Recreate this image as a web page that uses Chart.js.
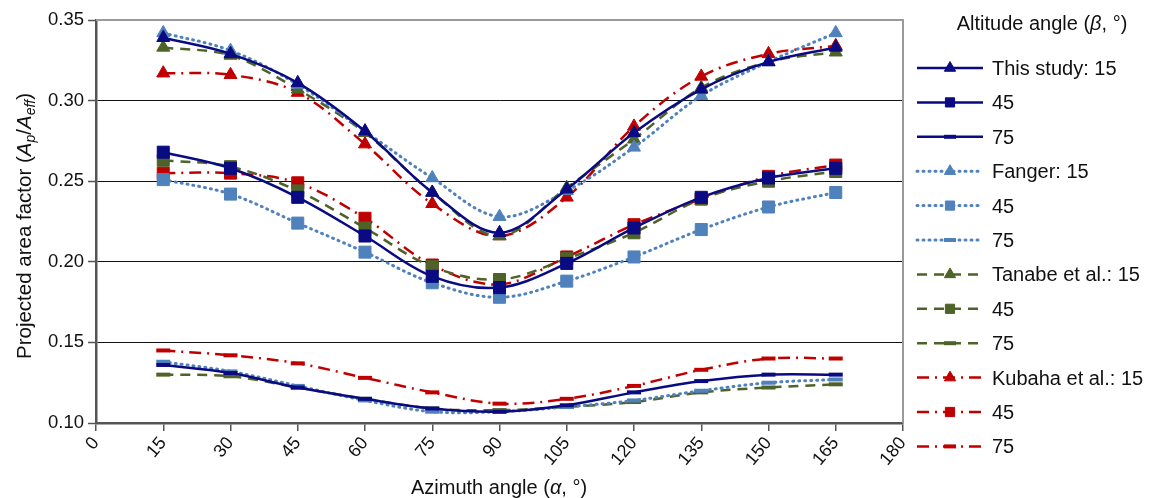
<!DOCTYPE html>
<html>
<head>
<meta charset="utf-8">
<script src="https://cdn.jsdelivr.net/npm/chart.js@4/dist/chart.umd.min.js"></script>
<style>
  html, body { margin: 0; padding: 0; background: #fff; }
  #wrap { width: 1149px; height: 498px; }
</style>
</head>
<body>
<div id="wrap"><canvas id="chart" width="1149" height="498"></canvas></div>
<script>
// azimuth angles (x)
const azimuth = [15, 30, 45, 60, 75, 90, 105, 120, 135, 150, 165];

// This study
const thisStudy15 = [0.339, 0.329, 0.311, 0.281, 0.243, 0.218, 0.245, 0.280, 0.307, 0.324, 0.333];
const thisStudy45 = [0.268, 0.258, 0.240, 0.216, 0.191, 0.184, 0.199, 0.221, 0.240, 0.252, 0.258];
const thisStudy75 = [0.136, 0.131, 0.122, 0.115, 0.109, 0.107, 0.111, 0.119, 0.126, 0.130, 0.130];
// Fanger
const fanger15 = [0.342, 0.331, 0.310, 0.281, 0.252, 0.228, 0.244, 0.271, 0.303, 0.324, 0.342];
const fanger45 = [0.251, 0.242, 0.224, 0.206, 0.187, 0.178, 0.188, 0.203, 0.220, 0.234, 0.243];
const fanger75 = [0.138, 0.132, 0.123, 0.114, 0.107, 0.107, 0.110, 0.114, 0.120, 0.125, 0.127];
// Tanabe et al.
const tanabe15 = [0.333, 0.328, 0.307, 0.280, 0.243, 0.216, 0.246, 0.276, 0.308, 0.324, 0.330];
const tanabe45 = [0.263, 0.259, 0.244, 0.221, 0.197, 0.189, 0.202, 0.218, 0.239, 0.250, 0.256];
const tanabe75 = [0.130, 0.129, 0.122, 0.115, 0.109, 0.108, 0.110, 0.113, 0.119, 0.122, 0.124];
// Kubaha et al.
const kubaha15 = [0.317, 0.316, 0.305, 0.273, 0.236, 0.216, 0.240, 0.284, 0.315, 0.329, 0.334];
const kubaha45 = [0.255, 0.255, 0.249, 0.227, 0.198, 0.186, 0.203, 0.223, 0.239, 0.253, 0.260];
const kubaha75 = [0.145, 0.142, 0.137, 0.128, 0.119, 0.112, 0.115, 0.123, 0.133, 0.140, 0.140];

const FONT = '"Liberation Sans", Arial, Helvetica, sans-serif';

const NAVY = '#0a0a82';
const BLUE = '#4f81bd';
const OLIVE = '#4f6228';
const RED = '#c00000';

const pts = arr => azimuth.map((a, i) => ({ x: a, y: arr[i] }));

function series(label, arr, color, dash, width, marker) {
  const isLine = marker === 'line';
  return {
    label: label,
    data: pts(arr),
    borderColor: color,
    backgroundColor: color,
    borderWidth: width,
    borderDash: dash,
    borderCapStyle: dash.length === 2 && dash[0] < 2 ? 'round' : 'butt',
    tension: 0.35,
    pointStyle: marker,
    pointRadius: isLine ? 7 : (marker === 'triangle' ? 7.5 : 8.5),
    pointBorderWidth: isLine ? 4 : 1,
    pointBackgroundColor: color,
    pointBorderColor: color,
    fill: false
  };
}

const solid = [];
const dotted = [1, 5];
const dashed = [10, 7];
const dashDot = [12, 6, 2, 6];

const datasets = [
  series('This study: 15', thisStudy15, NAVY, solid, 2.5, 'triangle'),
  series('45', thisStudy45, NAVY, solid, 2.5, 'rect'),
  series('75', thisStudy75, NAVY, solid, 2.5, 'line'),
  series('Fanger: 15', fanger15, BLUE, dotted, 3, 'triangle'),
  series('45', fanger45, BLUE, dotted, 3, 'rect'),
  series('75', fanger75, BLUE, dotted, 3, 'line'),
  series('Tanabe et al.: 15', tanabe15, OLIVE, dashed, 2.5, 'triangle'),
  series('45', tanabe45, OLIVE, dashed, 2.5, 'rect'),
  series('75', tanabe75, OLIVE, dashed, 2.5, 'line'),
  series('Kubaha et al.: 15', kubaha15, RED, dashDot, 2.5, 'triangle'),
  series('45', kubaha45, RED, dashDot, 2.5, 'rect'),
  series('75', kubaha75, RED, dashDot, 2.5, 'line')
];

// draws a run of text pieces with different styles, returns width
function drawRich(ctx, pieces, x, y, measureOnly) {
  let cx = x;
  pieces.forEach(p => {
    ctx.font = (p.italic ? 'italic ' : '') + p.size + 'px ' + FONT;
    if (!measureOnly) ctx.fillText(p.t, cx, y + (p.dy || 0));
    cx += ctx.measureText(p.t).width;
  });
  return cx - x;
}

const extras = {
  id: 'extras',
  beforeDatasetsDraw(chart) {
    const ctx = chart.ctx;
    const a = chart.chartArea;
    ctx.save();
    ctx.strokeStyle = '#9a9a9a';
    ctx.lineWidth = 2;
    ctx.beginPath();
    ctx.moveTo(a.left, a.top);
    ctx.lineTo(a.right, a.top);
    ctx.lineTo(a.right, a.bottom);
    ctx.stroke();
    ctx.restore();
  },
  afterDraw(chart) {
    const ctx = chart.ctx;
    ctx.save();
    ctx.fillStyle = '#111';
    ctx.textBaseline = 'alphabetic';

    // y axis title
    const yPieces = [
      { t: 'Projected area factor (', size: 20.5 },
      { t: 'A', size: 20.5, italic: true },
      { t: 'p', size: 14, italic: true, dy: 4 },
      { t: '/', size: 20.5 },
      { t: 'A', size: 20.5, italic: true },
      { t: 'eff', size: 14, italic: true, dy: 4 },
      { t: ')', size: 20.5 }
    ];
    ctx.save();
    ctx.translate(31, 226);
    ctx.rotate(-Math.PI / 2);
    const yw = drawRich(ctx, yPieces, 0, 0, true);
    drawRich(ctx, yPieces, -yw / 2, 0);
    ctx.restore();

    // x axis title
    const xPieces = [
      { t: 'Azimuth angle (', size: 20 },
      { t: 'α', size: 20, italic: true },
      { t: ', °)', size: 20 }
    ];
    const xw = drawRich(ctx, xPieces, 0, 0, true);
    drawRich(ctx, xPieces, 499 - xw / 2, 494);

    // legend title
    const lPieces = [
      { t: 'Altitude angle (', size: 20 },
      { t: 'β', size: 20, italic: true },
      { t: ', °)', size: 20 }
    ];
    const lw = drawRich(ctx, lPieces, 0, 0, true);
    drawRich(ctx, lPieces, 1042 - lw / 2, 30);

    // legend entries
    const x0 = 917, x1 = 983, xm = 950, tx = 992;
    chart.data.datasets.forEach((ds, i) => {
      const y = 68 + i * 34.4;
      ctx.save();
      ctx.strokeStyle = ds.borderColor;
      ctx.lineWidth = ds.borderWidth;
      ctx.setLineDash(ds.borderDash);
      ctx.lineCap = ds.borderCapStyle;
      ctx.beginPath();
      ctx.moveTo(x0, y);
      ctx.lineTo(x1, y);
      ctx.stroke();
      ctx.setLineDash([]);
      ctx.lineCap = 'butt';
      ctx.fillStyle = ds.pointBackgroundColor;
      ctx.strokeStyle = ds.pointBorderColor;
      ctx.lineWidth = ds.pointBorderWidth;
      Chart.helpers.drawPoint(ctx, {
        pointStyle: ds.pointStyle,
        radius: ds.pointStyle === 'line' ? 6 : 6.5,
        rotation: 0,
        borderWidth: ds.pointBorderWidth
      }, xm, y);
      ctx.restore();
      ctx.fillStyle = '#111';
      ctx.font = '20px ' + FONT;
      ctx.fillText(ds.label, tx, y + 7);
    });
    ctx.restore();
  }
};

new Chart(document.getElementById('chart').getContext('2d'), {
  type: 'line',
  data: { datasets: datasets },
  options: {
    responsive: false,
    animation: false,
    events: [],
    layout: { padding: { left: 0, top: 20, right: 246, bottom: 0 } },
    plugins: {
      legend: { display: false },
      tooltip: { enabled: false },
      title: { display: false }
    },
    scales: {
      x: {
        type: 'linear',
        min: 0,
        max: 180,
        afterFit: s => { s.height = 75; },
        border: { color: '#555', width: 2.5 },
        grid: { drawOnChartArea: false, drawTicks: true, tickLength: 8, color: '#555', lineWidth: 1.5 },
        ticks: {
          stepSize: 15,
          minRotation: 50,
          maxRotation: 50,
          padding: 2,
          color: '#111',
          font: { family: FONT, size: 18 }
        }
      },
      y: {
        min: 0.10,
        max: 0.35,
        afterFit: s => { s.width = 96; },
        border: { color: '#555', width: 2.5 },
        grid: {
          color: '#111',
          lineWidth: 1,
          tickLength: 8,
          tickColor: '#555',
          tickWidth: 1.5
        },
        ticks: {
          stepSize: 0.05,
          padding: 4,
          color: '#111',
          font: { family: FONT, size: 18.5 },
          callback: v => v.toFixed(2)
        }
      }
    }
  },
  plugins: [extras]
});
</script>
</body>
</html>
